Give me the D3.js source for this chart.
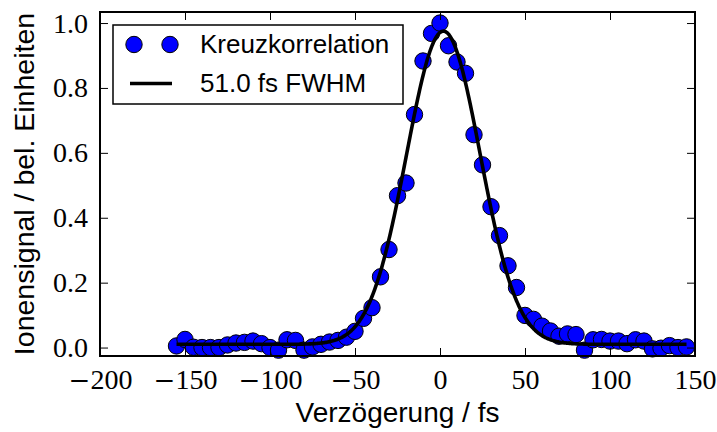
<!DOCTYPE html>
<html>
<head>
<meta charset="utf-8">
<script src="https://cdn.jsdelivr.net/npm/d3@7"></script>
<style>
  html, body { margin: 0; padding: 0; background: #fff; }
  svg { display: block; }
</style>
</head>
<body>
<svg id="chart" width="717" height="432"></svg>
<script>
// Cross-correlation scan: delay (fs) vs. normalised ion signal
const delays = [
  -155, -150, -145, -140, -135, -130, -125, -120, -115, -110,
  -105, -100, -95, -90, -85, -80, -75, -70, -65, -60,
  -55, -50, -45, -40, -35, -30, -25, -20, -15, -10,
  -5, 0, 5, 10, 15, 20, 25, 30, 35, 40,
  45, 50, 55, 60, 65, 70, 75, 80, 85, 90,
  95, 100, 105, 110, 115, 120, 125, 130, 135, 140, 145
];
const signal = [
  0.005, 0.025, 0.001, 0.000, 0.000, 0.000, 0.008, 0.014, 0.016, 0.020,
  0.012, 0.000, -0.008, 0.024, 0.022, -0.008, 0.002, 0.010, 0.017, 0.022,
  0.032, 0.050, 0.090, 0.123, 0.218, 0.302, 0.468, 0.507, 0.718, 0.883,
  0.968, 1.000, 0.930, 0.880, 0.845, 0.656, 0.563, 0.434, 0.345, 0.252,
  0.185, 0.099, 0.087, 0.066, 0.051, 0.035, 0.042, 0.040, -0.008, 0.024,
  0.025, 0.020, 0.020, 0.012, 0.024, 0.020, -0.004, -0.002, 0.006, 0.000, 0.002
];

// Gaussian fit parameters
const fwhm = 51.0;
const fitCenter = 2.0;
const fitAmplitude = 0.965;
const fitOffset = 0.01;

const xTicks = [-200, -150, -100, -50, 0, 50, 100, 150];
const yTicks = [0.0, 0.2, 0.4, 0.6, 0.8, 1.0];

const legendLabels = ["Kreuzkorrelation", fwhm.toFixed(1) + " fs FWHM"];
const xLabel = "Verzögerung / fs";
const yLabel = "Ionensignal / bel. Einheiten";

const margin = { left: 100, top: 12, right: 22, bottom: 76 };
const W = 717, H = 432;
const innerW = W - margin.left - margin.right;
const innerH = H - margin.top - margin.bottom;

const svg = d3.select("#chart");
const g = svg.append("g").attr("transform", `translate(${margin.left},${margin.top})`);

const x = d3.scaleLinear().domain([-200, 150]).range([0, innerW]);
const y = d3.scaleLinear().domain([-0.026, 1.034]).range([innerH, 0]);

const points = delays.map((d, i) => ({ x: d, y: signal[i] }));

const sigma = fwhm / (2 * Math.sqrt(2 * Math.LN2));
const gauss = t => fitOffset + fitAmplitude * Math.exp(-0.5 * ((t - fitCenter) / sigma) ** 2);
const [xmin, xmax] = d3.extent(delays);
const fit = d3.range(xmin, xmax + 0.01, 0.5).map(t => ({ x: t, y: gauss(t) }));

// data markers
g.append("g").selectAll("circle").data(points).join("circle")
  .attr("cx", d => x(d.x))
  .attr("cy", d => y(d.y))
  .attr("r", 8.2)
  .attr("fill", "#0000ff")
  .attr("stroke", "#000")
  .attr("stroke-width", 1);

// fitted curve
g.append("path").datum(fit)
  .attr("fill", "none")
  .attr("stroke", "#000")
  .attr("stroke-width", 3.6)
  .attr("stroke-linejoin", "round")
  .attr("d", d3.line().x(d => x(d.x)).y(d => y(d.y)));

// axes (ticks pointing inward on all four sides)
const tickFont = "'Liberation Serif', 'DejaVu Serif', serif";
const fmtY = d => d.toFixed(1);

const axB = g.append("g").attr("transform", `translate(0,${innerH})`)
  .call(d3.axisBottom(x).tickValues(xTicks).tickFormat(d => String(Math.abs(d))).tickSizeInner(-8).tickSizeOuter(0).tickPadding(13));
const axT = g.append("g")
  .call(d3.axisTop(x).tickValues(xTicks).tickFormat("").tickSizeInner(-8).tickSizeOuter(0));
const axL = g.append("g")
  .call(d3.axisLeft(y).tickValues(yTicks).tickFormat(fmtY).tickSizeInner(-8).tickSizeOuter(0).tickPadding(12));
const axR = g.append("g").attr("transform", `translate(${innerW},0)`)
  .call(d3.axisRight(y).tickValues(yTicks).tickFormat("").tickSizeInner(-8).tickSizeOuter(0));

[axB, axT, axL, axR].forEach(a => {
  a.select(".domain").remove();
  a.selectAll(".tick line").attr("stroke", "#000").attr("stroke-width", 1);
  a.selectAll(".tick text").attr("fill", "#000")
    .style("font-family", tickFont).style("font-size", "28px");
});

// negative x labels: wide math minus sign in front of the digits
axB.selectAll(".tick text").each(function (d) {
  if (d >= 0) return;
  const t = d3.select(this);
  const digits = String(Math.abs(d));
  t.text(null);
  t.append("tspan").style("font-family", "'DejaVu Serif', serif").style("font-size", "26px").text("\u2212");
  t.append("tspan").text(digits);
});

// frame
g.append("rect")
  .attr("x", 0).attr("y", 0).attr("width", innerW).attr("height", innerH)
  .attr("fill", "none").attr("stroke", "#000").attr("stroke-width", 2);

const sansFont = "'Liberation Sans', Arial, sans-serif";

// axis titles
svg.append("text")
  .attr("x", margin.left + innerW / 2).attr("y", 422)
  .attr("text-anchor", "middle")
  .style("font-family", sansFont).style("font-size", "28px")
  .text(xLabel);

svg.append("text")
  .attr("transform", `translate(34,${margin.top + innerH / 2}) rotate(-90)`)
  .attr("text-anchor", "middle")
  .style("font-family", sansFont).style("font-size", "28.5px")
  .text(yLabel);

// legend
const lg = g.append("g").attr("transform", "translate(13,13)");
lg.append("rect")
  .attr("x", 0).attr("y", 0).attr("width", 290).attr("height", 79)
  .attr("fill", "#fff").attr("stroke", "#000").attr("stroke-width", 1.5);
lg.selectAll("circle.leg").data([21, 57]).join("circle")
  .attr("class", "leg")
  .attr("cx", d => d).attr("cy", 19.5).attr("r", 8.2)
  .attr("fill", "#0000ff").attr("stroke", "#000").attr("stroke-width", 1);
lg.append("line")
  .attr("x1", 17).attr("x2", 59).attr("y1", 58.5).attr("y2", 58.5)
  .attr("stroke", "#000").attr("stroke-width", 3.6);
lg.selectAll("text").data(legendLabels).join("text")
  .attr("x", 87)
  .attr("y", (d, i) => 28 + i * 39)
  .style("font-family", sansFont).style("font-size", "26px")
  .text(d => d);
</script>
</body>
</html>
